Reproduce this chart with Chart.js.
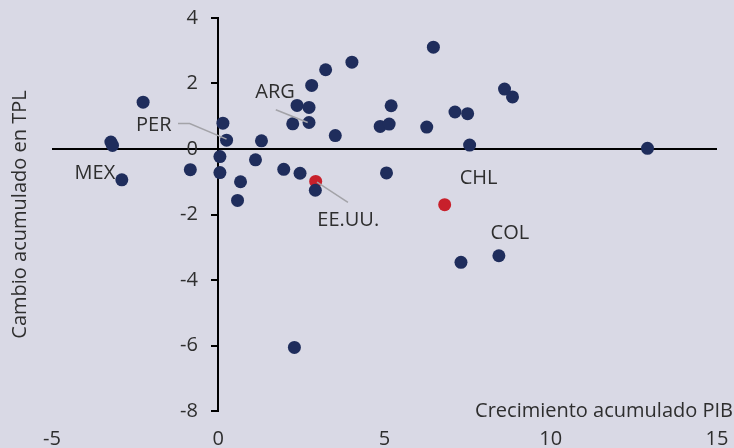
<!DOCTYPE html>
<html>
<head>
<meta charset="utf-8">
<script src="https://cdn.jsdelivr.net/npm/chart.js@4"></script>
<style>
  html, body { margin: 0; padding: 0; background: #d9d9e5; }
  #wrap { width: 734px; height: 448px; }
</style>
</head>
<body>
<div id="wrap"><canvas id="c" width="734" height="448"></canvas></div>
<script>
// Crecimiento acumulado PIB (x) vs Cambio acumulado en TPL (y)
const countriesX = [-3.23, -3.18, -2.90, -2.26, -0.84, 0.14, 0.25, 0.05, 0.05, 0.67, 0.58, 1.12, 1.30, 1.97, 2.46, 2.92, 2.24, 2.37, 2.73, 2.73, 2.81, 3.23, 4.02, 3.52, 2.29, 6.47, 5.20, 4.87, 5.14, 6.27, 7.12, 7.50, 8.61, 8.85, 7.56, 12.91, 5.06, 7.30, 8.44];
const countriesY = [0.21, 0.11, -0.94, 1.43, -0.63, 0.79, 0.27, -0.23, -0.72, -1.00, -1.57, -0.33, 0.25, -0.62, -0.74, -1.26, 0.77, 1.33, 1.27, 0.81, 1.94, 2.42, 2.65, 0.41, -6.06, 3.11, 1.32, 0.69, 0.76, 0.67, 1.13, 1.08, 1.83, 1.59, 0.12, 0.02, -0.73, -3.46, -3.26];
const highlightX = [2.93, 6.81];   // EE.UU., CHL
const highlightY = [-0.99, -1.70];

const xTicks = [-5, 0, 5, 10, 15];
const yTicks = [-8, -6, -4, -2, 0, 2, 4];

const labelText = ['PER', 'ARG', 'MEX', 'EE.UU.', 'CHL', 'COL'];
const labelX = [-1.94, 1.71, -3.71, 3.91, 7.83, 8.77];
const labelY = [0.73, 1.72, -0.74, -2.17, -0.89, -2.58];
// leader lines (data coordinates), one polyline per labelled country
const leaderLines = [
  [[-1.21, 0.78], [-0.86, 0.78], [0.25, 0.30]],
  [[1.73, 1.20], [2.69, 0.81]],
  [[2.97, -1.01], [3.90, -1.63]]
];

const xTitle = 'Crecimiento acumulado PIB';
const yTitle = 'Cambio acumulado en TPL';

const FONT = "'Open Sans', 'Noto Sans', sans-serif";
const TEXT = '#2e2e2e';
const NAVY = '#1f2d5c';
const RED = '#c8202b';

const toPts = (xs, ys) => xs.map((x, i) => ({ x: x, y: ys[i] }));

const annotations = {
  id: 'annotations',
  afterDatasetsDraw(chart) {
    const ctx = chart.ctx;
    const xs = chart.scales.x, ys = chart.scales.y;
    ctx.save();
    ctx.strokeStyle = '#a3a3a8';
    ctx.lineWidth = 1.5;
    leaderLines.forEach(line => {
      ctx.beginPath();
      line.forEach((p, i) => {
        const px = xs.getPixelForValue(p[0]), py = ys.getPixelForValue(p[1]);
        if (i === 0) ctx.moveTo(px, py); else ctx.lineTo(px, py);
      });
      ctx.stroke();
    });
    ctx.fillStyle = TEXT;
    ctx.font = '20px ' + FONT;
    ctx.textAlign = 'center';
    ctx.textBaseline = 'middle';
    labelText.forEach((t, i) => {
      ctx.fillText(t, xs.getPixelForValue(labelX[i]), ys.getPixelForValue(labelY[i]));
    });
    // axis titles
    ctx.textAlign = 'right';
    ctx.textBaseline = 'alphabetic';
    ctx.fillText(xTitle, 733, 416.5);
    ctx.save();
    ctx.translate(20, (chart.chartArea.top + chart.chartArea.bottom) / 2);
    ctx.rotate(-Math.PI / 2);
    ctx.textAlign = 'center';
    ctx.textBaseline = 'middle';
    ctx.fillText(yTitle, 0, 0);
    ctx.restore();
    ctx.restore();
  }
};

new Chart(document.getElementById('c'), {
  type: 'scatter',
  data: {
    datasets: [
      { data: toPts(countriesX, countriesY), backgroundColor: NAVY, borderWidth: 0, pointRadius: 6.5, pointHoverRadius: 6.5 },
      { data: toPts(highlightX, highlightY), backgroundColor: RED, borderWidth: 0, pointRadius: 6.5, pointHoverRadius: 6.5 }
    ]
  },
  options: {
    responsive: false,
    animation: false,
    events: [],
    layout: { padding: { left: 52, right: 17, top: 18, bottom: 0 } },
    plugins: { legend: { display: false }, tooltip: { enabled: false } },
    scales: {
      x: {
        type: 'linear',
        position: 'bottom',
        min: -5, max: 15,
        afterBuildTicks: s => { s.ticks = xTicks.map(v => ({ value: v })); },
        afterFit: s => { s.height = 37; s.paddingLeft = 0; s.paddingRight = 0; },
        grid: { display: false, drawTicks: false },
        border: { display: false },
        ticks: { color: TEXT, font: { family: FONT, size: 20 }, padding: 16, maxRotation: 0 }
      },
      y: {
        type: 'linear',
        position: { x: 0 },
        min: -8, max: 4,
        afterBuildTicks: s => { s.ticks = yTicks.map(v => ({ value: v })); },
        grid: {
          color: c => (c.tick && c.tick.value === 0) ? '#000000' : 'rgba(0,0,0,0)',
          lineWidth: 2,
          tickColor: '#000000',
          tickWidth: 2,
          tickLength: 6,
          drawTicks: true
        },
        border: { display: true, color: '#000000', width: 2 },
        ticks: { display: false, padding: 0 }
      },
      yLabels: {
        type: 'linear',
        axis: 'y',
        position: { x: -0.61 },
        min: -8, max: 4,
        afterBuildTicks: s => { s.ticks = yTicks.map(v => ({ value: v })); },
        grid: { display: false, drawTicks: false },
        border: { display: false },
        ticks: { color: TEXT, font: { family: FONT, size: 20 }, padding: 0 }
      }
    }
  },
  plugins: [annotations]
});
</script>
</body>
</html>
